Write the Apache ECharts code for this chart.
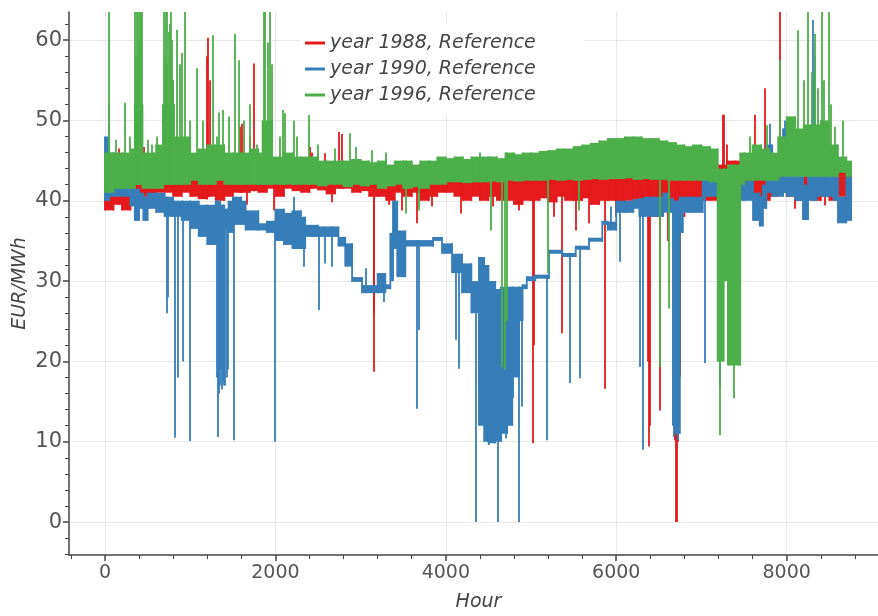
<!DOCTYPE html>
<html><head><meta charset="utf-8">
<script src="https://cdn.jsdelivr.net/npm/echarts@6/dist/echarts.min.js"></script>
<style>html,body{margin:0;padding:0;background:#fff}#chart{width:878px;height:616px}</style>
</head><body><div id="chart"></div>
<script>
const seriesNames = ['year 1988, Reference', 'year 1990, Reference', 'year 1996, Reference'];
const seriesColors = ['#e41a1c', '#377eb8', '#4daf4a'];

// ---- 1988 (red): dense band envelope + isolated spikes ----
const redBandHours = [0,100,200,300,400,500,600,700,800,900,1000,1100,1200,1300,1400,1500,1600,1700,1800,1900,2000,2100,2200,2300,2400,2500,2600,2700,2800,2900,3000,3100,3200,3300,3400,3500,3600,3700,3800,3900,4000,4100,4200,4300,4400,4500,4600,4700,4800,4900,5000,5100,5200,5300,5400,5500,5600,5700,5800,5900,6000,6100,6200,6300,6400,6500,6600,6700,6800,6900,7000,7100,7200,7300,7400,7500,7600,7700,7800,7900,8000,8100,8200,8300,8400,8500,8600,8700,8760];
const redBandLow = [38.8,39.5,38.8,40,40.5,40.8,41,41,40.5,41,40.5,40.2,40.5,40,40.5,41,41,41.2,41,41.5,40.5,41.5,41.2,41,41.5,41.3,40.8,41.5,41.5,41,41.2,40.5,40.5,40,41,40.5,41,40,40.5,41,41,40.5,40,40.5,40,40.5,40,40,39.5,40,40,40.3,39.8,40.5,40,40,40.3,39.5,40,40,39.5,40,39.5,39.5,38,39.5,39,38,39.5,40,40,40,41,41.5,41,40.5,40,40,40.5,41,40.5,40,40.5,40,40.5,40,40.5,40.5,40.5];
const redBandHigh = [43,43.5,43,44,44,44,44,44.5,44,44.5,44,44.5,45,44,43.5,44,44.5,44.5,44,44,43.5,43.5,43.5,43.5,44,43.5,43.5,43.5,43.5,43.5,43.5,43.5,43.5,43.3,43.5,43.5,43.5,43,43,43.2,43,43,43,43,43,43.5,43,43,43,43.5,43,43.5,43,43.5,43.5,43.5,43.5,43.5,43.5,43.5,43.5,44,43.5,43.5,43.5,43.5,43.5,43,43,43.5,43.5,43,44.5,45,45,43.5,44,44,44,44.5,43.5,43.5,43.5,43.5,43.5,43.5,44,44,44];
const redSpikeHours = [164,450,560,1020,1195,1210,1225,1585,1604,1662,1700,1741,1985,2406,2425,2582,2660,2738,2777,3150,3160,3335,3486,3662,3838,4170,4545,4858,5023,5035,5270,5359,5524,5680,5868,6000,6280,6370,6381,6395,6506,6600,6682,6695,6705,6725,6750,7250,7264,7300,7620,7746,7922,8100,8450];
const redSpikeValues = [46.5,46.7,46,45.3,58,60.3,55,49.2,49.6,39.5,48.1,57.1,38.8,46.7,46,45.9,39.8,48.6,48.3,26,18.7,39.5,38.8,37.2,39.3,38.4,39.3,38.8,9.8,22,38,23.5,36.3,37.2,16.6,38,38,20,9.4,12,13.9,35,10.2,0,0,10,18.1,50.7,50.7,47,50.7,54,63.5,39,39.4];

// ---- 1990 (blue) ----
const blueBandHours = [0,50,100,200,300,350,400,450,500,600,700,800,900,1000,1100,1200,1300,1350,1400,1450,1500,1600,1650,1800,1900,2000,2100,2200,2300,2350,2500,2740,2820,2900,3016,3200,3290,3349,3380,3430,3525,3850,3955,4073,4190,4300,4389,4450,4500,4580,4650,4720,4780,4860,4900,4950,5050,5211,5367,5524,5680,5836,5900,6000,6100,6200,6271,6330,6450,6550,6623,6665,6700,6745,6780,6900,7014,7100,7210,7300,7500,7605,7683,7720,7761,7830,7957,8000,8100,8191,8250,8350,8450,8550,8602,8700,8760];
const blueBandLow = [40,40.5,40.5,40.5,39.3,37.5,39,37.5,39,38.5,38,38,37.5,36.5,35.5,34.5,35.5,36,36.5,36,37,37,36.3,36.3,36,35,34.5,34,34,35.5,35.5,34.3,31.8,29.9,28.5,28.5,29,30,34,30.5,34.3,35,33.4,31,28.5,26,12,10,9.8,10,11,12,18,25,29,30,30.3,33.4,33,33.9,34.9,37,36.3,38.5,38.5,39,38,38,38,38.5,38.5,12,11,36,38.5,38.5,40.5,40.5,40.5,40,40,37.5,36.8,39,41,40.5,41,40.5,40,37.6,40,40.5,40.5,40,37.2,37.5,37.5];
const blueBandHigh = [48,46,42.5,42.5,41.5,41.5,41,40.5,41,41,40.5,40,40,40,39.5,39.5,40,39.5,39,40,40.5,40,38.8,37.2,37.5,39,38.5,38.8,38,37,36.8,35.5,34.7,30.5,29.5,31,29.6,36,40,36.3,35.1,35.5,34.7,33.4,32.2,30,33,32,30,29,29.3,29.3,29.3,29.3,29.6,30.6,30.8,33.9,33.5,34.4,35.4,37.5,37.4,40,40,40.2,40.3,40.5,40.5,41,40.3,40,40,40.5,40.5,40.5,43,43.5,42.5,42.5,42.5,41,40.5,42,47,43,49,43.5,43.5,42,43.5,43.5,43.5,43,40.5,43,43];
const blueSpikeHours = [40,720,740,822,860,912,998,1310,1322,1334,1346,1358,1370,1382,1394,1410,1425,1440,1506,1995,2210,2327,2503,2582,2660,3055,3271,3662,3681,4112,4151,4351,4381,4502,4605,4650,4700,4753,4783,4855,4890,5188,5457,5567,5939,6036,6279,6310,6680,6720,7042,7210,7804,7980,8310,8330];
const blueSpikeValues = [52.1,26,28,10.5,18,20,10.1,18,10.6,16,17,19,16.5,17.5,17,17,18,19,10.2,10,40.5,31.8,26.4,32.2,31.8,31.6,27.4,14.1,23.9,22.7,19.1,0,16.7,9.6,0,10.4,10.4,18.1,15.4,0,14.4,10.2,17.3,17.9,39.3,32.4,19.3,9,10.6,10.2,19.8,16.8,49.6,50,62.5,58];

// ---- 1996 (green) ----
const greenBandHours = [0,100,200,300,350,440,500,600,680,810,900,1000,1100,1200,1300,1400,1500,1600,1700,1800,1850,1960,2100,2200,2300,2400,2500,2600,2700,2800,2900,3000,3100,3200,3300,3400,3500,3600,3700,3800,3900,4000,4100,4200,4300,4400,4500,4600,4700,4800,4900,5000,5100,5200,5300,5400,5500,5600,5700,5800,5900,6000,6100,6200,6300,6400,6500,6600,6700,6800,6900,7000,7100,7190,7260,7310,7455,7500,7600,7700,7800,7900,8000,8100,8200,8300,8400,8500,8600,8700,8760];
const greenBandLow = [41,41.5,41.5,41.5,42,41.5,41.5,41.5,42,42,42,42.5,42,42,42.5,42,42,42,42,42,42,42,42,42,42,42,41.8,42,42,41.7,42,41.8,42,41.5,41.8,42,41.5,41.7,41.5,42,42,42.3,42.3,42.2,42.3,42.3,42.4,42.3,42.5,42.4,42.5,42.5,42.5,42.6,42.5,42.6,42.5,42.6,42.7,42.6,42.7,42.7,42.8,42.6,42.7,42.6,42.6,42.5,42.5,42.5,42.5,42.5,42.3,20,30,19.5,42,42.5,42.5,42.5,42.5,43,43,43,43,43,43,43,43.5,43,43];
const greenBandHigh = [46,46,46,46.5,52,46,46,47,52,48,48,46,46.5,47,47,46,46,46,46.5,46,50,45.5,46,45.5,45.5,45.5,45,45,45,45,45.2,45,44.8,45,44.5,45,45,44.5,45,45,45.5,45.3,45.5,45.2,45.5,45.5,45.5,45.3,46,45.8,46,46,46.2,46.3,46.5,46.5,46.8,47,47.2,47.5,47.8,47.8,48,48,47.8,47.8,47.5,47.3,47,46.8,47,46.8,46.5,44,44,44.5,46,46,47,46.5,46,48,50.5,49,49.5,49.5,50,47,45.5,45,45];
const greenSpikeHours = [39,130,235,293,355,362,370,380,390,400,410,425,434,505,550,610,690,700,710,720,730,745,760,770,780,790,800,845,880,900,940,1000,1078,1150,1270,1310,1340,1385,1447,1526,1565,1623,1700,1780,1860,1878,1905,1936,1960,2050,2090,2112,2210,2250,2386,2500,2700,2875,2938,3129,3290,3525,3681,4400,4526,4660,4690,4718,5191,5563,6510,6611,7218,7374,7566,7761,7918,8133,8200,8250,8290,8329,8360,8407,8440,8497,8520,8563,8661];
const greenSpikeValues = [63.5,47.6,52.2,48,63.5,58,63.5,63.5,55,60,63.5,63.5,63.5,47.6,47,48,63.5,58,63.5,63.5,57,61,62,63.5,60,55,55,61.3,57,58.4,63.5,50,56.5,50,60.6,48,51,51.3,50.5,60.8,57.5,50,52,47,63.5,63.5,59.7,63.5,57,48,51.3,50.9,50,48,51.3,47,46.5,48.4,46.7,46.3,46,38.4,38.8,46,36.3,19.3,19,25,31,38.8,19.3,26.6,10.8,15.4,48,49.4,57.5,61.2,55,63.5,56,60.8,54,63.5,55,63.5,52,49.2,50];

// ---- axis ticks ----
const xMajorTicks = [0, 2000, 4000, 6000, 8000];
const xMinorTicks = [-400, 400, 800, 1200, 1600, 2400, 2800, 3200, 3600, 4400, 4800, 5200, 5600, 6400, 6800, 7200, 7600, 8400, 8800];
const yMajorTicks = [0, 10, 20, 30, 40, 50, 60];
const yMinorTicks = [-4, -2, 2, 4, 6, 8, 12, 14, 16, 18, 22, 24, 26, 28, 32, 34, 36, 38, 42, 44, 46, 48, 52, 54, 56, 58, 62];

const X_MIN = -422, X_MAX = 9189, Y_MIN = -4.1, Y_MAX = 63.5;
const FONT = 'DejaVu Sans';
const AXIS_COLOR = '#444';

function bandIndex(hours, h) {
  let idx = 0;
  for (let i = 0; i < hours.length; i++) { if (hours[i] <= h) idx = i; }
  return idx;
}
function makeSeries(k, hours, low, high, spikeH, spikeV) {
  const name = seriesNames[k], color = seriesColors[k], z = 2 + k;
  // each band cell: [startHour, endHour, low, high, prevLow, prevHigh]
  const cells = [];
  for (let i = 0; i < hours.length - 1; i++) {
    const p = i > 0 ? i - 1 : i;
    cells.push([hours[i], hours[i + 1], low[i], high[i], low[p], high[p]]);
  }
  const segs = spikeH.map((h, i) => {
    const j = bandIndex(hours, h);
    const v = spikeV[i];
    const base = v > high[j] ? low[j] : high[j];
    return { coords: [[h, base], [h, v]] };
  });
  return [
    { name: name, type: 'custom', data: cells, z: z, silent: true, color: color,
      encode: { x: [0, 1], y: [2, 3] },
      renderItem: function (params, api) {
        const p1 = api.coord([api.value(0), api.value(3)]);
        const p2 = api.coord([api.value(1), api.value(2)]);
        const c1 = api.coord([api.value(0), Math.max(api.value(3), api.value(5))]);
        const c2 = api.coord([api.value(0), Math.min(api.value(2), api.value(4))]);
        return { type: 'group', children: [
          { type: 'rect',
            shape: { x: p1[0], y: p1[1], width: p2[0] - p1[0] + 0.6, height: Math.max(1.8, p2[1] - p1[1]) },
            style: { fill: color } },
          { type: 'rect',
            shape: { x: c1[0] - 0.9, y: c1[1], width: 1.8, height: Math.max(1.8, c2[1] - c1[1]) },
            style: { fill: color } }
        ] };
      }
    },
    { name: name + ' spikes', type: 'lines', coordinateSystem: 'cartesian2d', polyline: false,
      data: segs, lineStyle: { color: color, width: 1.8, opacity: 1, curveness: 0 }, silent: true, z: z }
  ];
}

const series = [].concat(
  makeSeries(0, redBandHours, redBandLow, redBandHigh, redSpikeHours, redSpikeValues),
  makeSeries(1, blueBandHours, blueBandLow, blueBandHigh, blueSpikeHours, blueSpikeValues),
  makeSeries(2, greenBandHours, greenBandLow, greenBandHigh, greenSpikeHours, greenSpikeValues)
);

const chart = echarts.init(document.getElementById('chart'), null, { renderer: 'canvas' });
chart.setOption({
  animation: false,
  backgroundColor: '#fff',
  grid: { left: 69, top: 12, right: -10, bottom: 61, containLabel: false, outerBoundsMode: 'none', show: false },
  legend: {
    orient: 'vertical', left: 300, top: 23, padding: [8, 48, 8, 5], backgroundColor: '#fff',
    itemWidth: 20, itemHeight: 3, itemGap: 2, icon: 'rect', z: 10,
    textStyle: { fontFamily: FONT, fontStyle: 'italic', fontSize: 19, color: '#444', lineHeight: 24 },
    data: seriesNames.map((n, i) => ({ name: n, itemStyle: { color: seriesColors[i] } }))
  },
  xAxis: [
    { type: 'value', min: X_MIN, max: X_MAX, position: 'bottom',
      name: 'Hour', nameLocation: 'middle', nameGap: 38,
      nameTextStyle: { fontFamily: FONT, fontStyle: 'italic', fontSize: 19, color: '#444' },
      axisLine: { show: true, onZero: false, lineStyle: { color: AXIS_COLOR, width: 1.5 } },
      axisTick: { show: true, length: 6, customValues: xMajorTicks, lineStyle: { color: AXIS_COLOR, width: 1.5 } },
      axisLabel: { show: true, customValues: xMajorTicks, margin: 9, fontFamily: FONT, fontSize: 19, color: '#555',
                   formatter: function (v) { return String(v); } },
      splitLine: { show: true, lineStyle: { color: '#e8e8e8', width: 1 } },
      minorTick: { show: false }
    },
    { type: 'value', min: X_MIN, max: X_MAX, position: 'bottom',
      axisLine: { show: false, onZero: false },
      axisTick: { show: true, length: 4, customValues: xMinorTicks, lineStyle: { color: AXIS_COLOR, width: 1 } },
      axisLabel: { show: false }, splitLine: { show: false }
    }
  ],
  yAxis: [
    { type: 'value', min: Y_MIN, max: Y_MAX, position: 'left',
      name: 'EUR/MWh', nameLocation: 'middle', nameGap: 39, nameRotate: 90, nameMoveOverlap: false,
      nameTextStyle: { fontFamily: FONT, fontStyle: 'italic', fontSize: 19, color: '#444' },
      axisLine: { show: true, onZero: false, lineStyle: { color: AXIS_COLOR, width: 1.5 } },
      axisTick: { show: true, length: 6, customValues: yMajorTicks, lineStyle: { color: AXIS_COLOR, width: 1.5 } },
      axisLabel: { show: true, customValues: yMajorTicks, margin: 7, fontFamily: FONT, fontSize: 21, color: '#555',
                   formatter: function (v) { return String(v); } },
      splitLine: { show: true, lineStyle: { color: '#e8e8e8', width: 1 } }
    },
    { type: 'value', min: Y_MIN, max: Y_MAX, position: 'left',
      axisLine: { show: false, onZero: false },
      axisTick: { show: true, length: 4, customValues: yMinorTicks, lineStyle: { color: AXIS_COLOR, width: 1 } },
      axisLabel: { show: false }, splitLine: { show: false }
    }
  ],
  series: series
});
</script></body></html>
